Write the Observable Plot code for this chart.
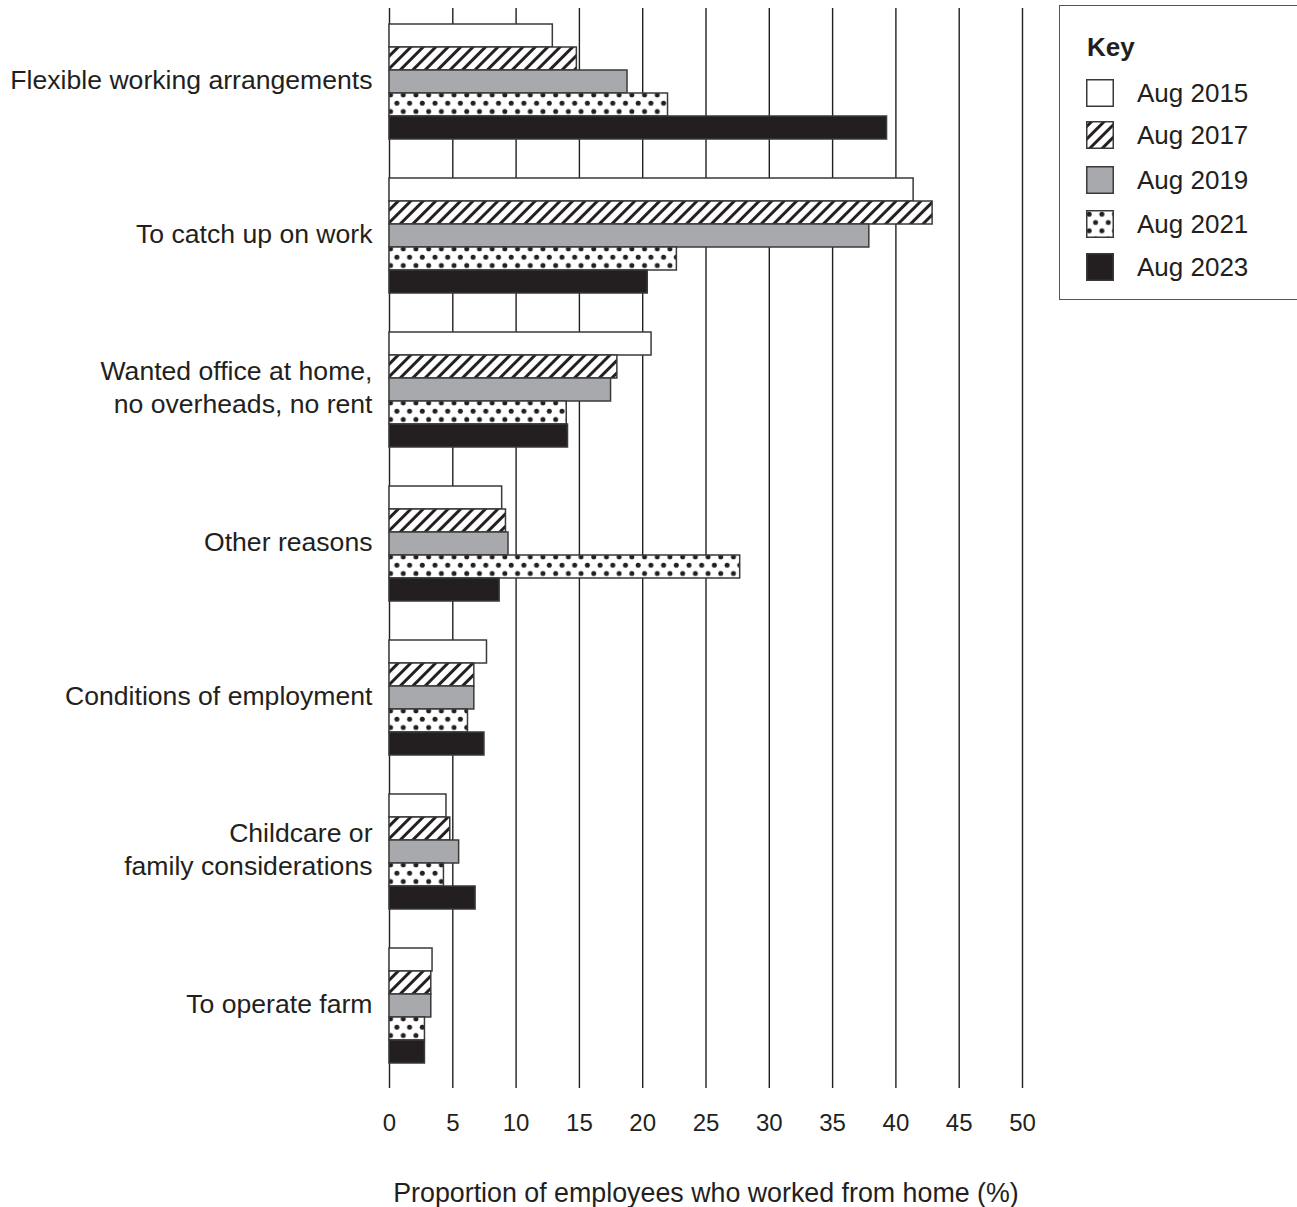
<!DOCTYPE html>
<html>
<head>
<meta charset="utf-8">
<script src="https://cdn.jsdelivr.net/npm/d3@7"></script>
<script src="https://cdn.jsdelivr.net/npm/@observablehq/plot@0.6"></script>
<style>
  body { margin: 0; background: #fff; }
  #wrap { position: relative; width: 1297px; height: 1207px; overflow: hidden; font-family: "Liberation Sans", Arial, sans-serif; color: #231f20; }
  #grid, #chart { position: absolute; left: 0; top: 0; }
  #key { position: absolute; left: 1059px; top: 5px; width: 270px; height: 295px; border: 1.5px solid #555; box-sizing: border-box; background: #fff; }
  #key .title { position: absolute; left: 27px; top: 28px; font-weight: bold; font-size: 26px; line-height: 26px; }
  #key .row { position: absolute; left: 26px; height: 28px; display: flex; align-items: center; font-size: 26px; }
  #key .row svg { margin-right: 23px; }
</style>
</head>
<body>
<svg width="0" height="0" style="position:absolute">
  <defs>
    <pattern id="hatch" patternUnits="userSpaceOnUse" width="8.8" height="8.8" patternTransform="rotate(45)">
      <rect width="8.8" height="8.8" fill="#fff"></rect>
      <line x1="4.4" y1="0" x2="4.4" y2="8.8" stroke="#231f20" stroke-width="3"></line>
    </pattern>
    <pattern id="dots" patternUnits="userSpaceOnUse" width="12.7" height="16.6">
      <rect width="12.7" height="16.6" fill="#fff"></rect>
      <circle cx="3.2" cy="4.2" r="2.5" fill="#231f20"></circle>
      <circle cx="9.55" cy="12.5" r="2.5" fill="#231f20"></circle>
    </pattern>
  </defs>
</svg>
<div id="wrap">
  <div id="grid"></div>
  <div id="chart"></div>
  <div id="key"></div>
</div>
<script>
const reasons = [
  "Flexible working arrangements",
  "To catch up on work",
  "Wanted office at home,\nno overheads, no rent",
  "Other reasons",
  "Conditions of employment",
  "Childcare or\nfamily considerations",
  "To operate farm"
];
const years = ["Aug 2015", "Aug 2017", "Aug 2019", "Aug 2021", "Aug 2023"];
const v2015 = [12.9, 41.4, 20.7, 8.9, 7.7, 4.5, 3.4];
const v2017 = [14.8, 42.9, 18.0, 9.2, 6.7, 4.8, 3.3];
const v2019 = [18.8, 37.9, 17.5, 9.4, 6.7, 5.5, 3.3];
const v2021 = [22.0, 22.7, 14.0, 27.7, 6.2, 4.3, 2.8];
const v2023 = [39.3, 20.4, 14.1, 8.7, 7.5, 6.8, 2.8];
const xTicks = [0, 5, 10, 15, 20, 25, 30, 35, 40, 45, 50];
const xTitle = "Proportion of employees who worked from home (%)";
const keyTitle = "Key";
const fills = ["#ffffff", "url(#hatch)", "#a7a9ac", "url(#dots)", "#231f20"];

const series = [v2015, v2017, v2019, v2021, v2023];
const data = years.flatMap((yr, j) => reasons.map((r, i) => ({reason: r, year: yr, value: series[j][i]})));

const ink = "#231f20";
const common = {
  width: 1297,
  height: 1207,
  marginLeft: 389,
  marginRight: 275,
  marginTop: 8,
  marginBottom: 119,
  style: {fontFamily: "Liberation Sans, Arial, sans-serif", fontSize: "24px", color: ink, background: "transparent"},
  x: {domain: [0, 50], axis: null}
};

// Background layer: gridlines, tick labels and axis title
const grid = Plot.plot({
  ...common,
  marks: [
    Plot.ruleX(xTicks, {x: d => d, stroke: ink, strokeWidth: 1.4}),
    Plot.text(xTicks, {x: d => d, text: d => String(d), frameAnchor: "bottom", dy: 42, fontSize: 24, fill: ink}),
    Plot.text([xTitle], {text: d => d, frameAnchor: "bottom", dy: 113, fontSize: 26.8, fill: ink})
  ]
});
document.getElementById("grid").appendChild(grid);

// Foreground layer: grouped bars and category labels
const chart = Plot.plot({
  ...common,
  fy: {domain: reasons, paddingInner: 0.252, paddingOuter: 0.116, align: 0.39, axis: null},
  y: {domain: years, padding: 0, axis: null},
  color: {type: "ordinal", domain: years, range: fills},
  marks: [
    Plot.barX(data, {fy: "reason", y: "year", x: "value", fill: "year", stroke: "#3a3a3a", strokeWidth: 1.5}),
    Plot.text(reasons, {fy: d => d, text: d => d, frameAnchor: "left", textAnchor: "end", dx: -17, dy: -4, fontSize: 26.6, lineHeight: 1.25, fill: ink})
  ]
});
document.getElementById("chart").appendChild(chart);

// Key
const key = d3.select("#key");
key.append("div").attr("class", "title").text(keyTitle);
const rowTops = [73, 115, 160, 204, 247];
years.forEach((yr, i) => {
  const row = key.append("div").attr("class", "row").style("top", rowTops[i] + "px");
  const s = row.append("svg").attr("width", 28).attr("height", 28);
  s.append("rect").attr("x", 0.75).attr("y", 0.75).attr("width", 26.5).attr("height", 26.5)
    .attr("fill", fills[i]).attr("stroke", "#3a3a3a").attr("stroke-width", 1.5);
  row.append("span").text(yr);
});
</script>
</body>
</html>
